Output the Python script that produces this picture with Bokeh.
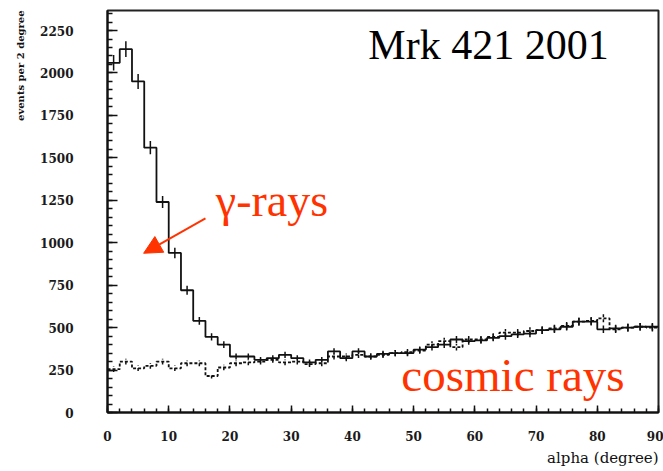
import numpy as np
from bokeh.plotting import figure
from bokeh.models import Range1d, Label, Arrow, NormalHead, FixedTicker, Title
from bokeh.embed import file_html
from bokeh.resources import INLINE

# alpha histogram, 2-degree bins from 0 to 90
bin_low = np.arange(0, 90, 2)
bin_width = 2

# ON-source events (gamma-rays + background)
on_counts = [2060, 2140, 1950, 1560, 1240, 940, 720, 540, 445, 400,
             330, 330, 310, 320, 340, 320, 295, 310, 360, 320,
             360, 330, 345, 350, 350, 370, 385, 400, 430, 420,
             425, 440, 450, 460, 465, 485, 490, 505, 535, 535,
             490, 495, 500, 505, 505]

# OFF-source events (cosmic rays)
off_counts = [255, 300, 260, 275, 300, 260, 290, 290, 215, 265,
              290, 295, 300, 310, 295, 300, 285, 290, 330, 330,
              340, 330, 340, 350, 355, 365, 400, 420, 385, 430,
              430, 445, 470, 470, 480, 485, 495, 510, 535, 540,
              555, 490, 500, 505, 500]

y_ticks = [0, 250, 500, 750, 1000, 1250, 1500, 1750, 2000, 2250]
x_ticks = [0, 10, 20, 30, 40, 50, 60, 70, 80, 90]

RED = "#ff3300"
TICK_FONT = "DejaVu Serif"
TEXT_FONT = "Liberation Serif"

p = figure(width=663, height=471, output_backend="svg", toolbar_location=None,
           x_range=Range1d(0, 90), y_range=Range1d(0, 2368),
           min_border_left=107, min_border_right=5,
           min_border_top=10, min_border_bottom=59)
p.background_fill_color = "white"
p.border_fill_color = "white"
p.outline_line_color = "#222222"
p.outline_line_width = 2
p.xgrid.visible = False
p.ygrid.visible = False

for ax in (p.xaxis[0], p.yaxis[0]):
    ax.axis_line_color = "#111111"
    ax.axis_line_width = 2
    ax.major_tick_line_color = "#111111"
    ax.minor_tick_line_color = "#111111"
    ax.major_tick_line_width = 1.5
    ax.minor_tick_line_width = 1.5
    ax.major_tick_out = 0
    ax.minor_tick_out = 0
    ax.major_label_text_font = TICK_FONT
    ax.major_label_text_font_size = "12px"
    ax.major_label_text_font_style = "bold"
    ax.major_label_text_color = "#1a1a1a"

p.yaxis[0].ticker = FixedTicker(ticks=y_ticks,
                                minor_ticks=list(np.arange(0, 2400, 50)))
p.yaxis[0].major_tick_in = 10
p.yaxis[0].minor_tick_in = 5
p.yaxis[0].major_label_standoff = 34

p.xaxis[0].ticker = FixedTicker(ticks=x_ticks,
                                minor_ticks=list(np.arange(0, 92, 2)))
p.xaxis[0].major_tick_in = 7
p.xaxis[0].minor_tick_in = 4
p.xaxis[0].major_label_standoff = 18


def draw_hist(counts, dash):
    counts = np.asarray(counts, dtype=float)
    edges = np.append(bin_low, bin_low[-1] + bin_width)
    levels = np.append(counts, counts[-1])
    p.step(x=edges, y=levels, mode="after", line_color="#111111",
           line_width=1.8, line_dash=dash)
    centers = bin_low + bin_width / 2
    err = np.sqrt(counts)
    p.segment(x0=centers, y0=counts - err, x1=centers, y1=counts + err,
              line_color="#111111", line_width=1.5, line_dash=dash)


draw_hist(off_counts, "3 2")
draw_hist(on_counts, "solid")

# annotations
p.add_layout(Label(x=42.6, y=2162, text="Mrk 421 2001",
                   text_font=TEXT_FONT, text_font_size="42px",
                   text_color="black", text_baseline="alphabetic"))
p.add_layout(Label(x=17.7, y=1250, text="γ-rays",
                   text_font=TEXT_FONT, text_font_size="46px",
                   text_color=RED, text_baseline="alphabetic"))
p.add_layout(Label(x=48.0, y=220, text="cosmic rays",
                   text_font=TEXT_FONT, text_font_size="47px",
                   text_color=RED, text_baseline="alphabetic"))
p.add_layout(Arrow(x_start=16.0, y_start=1144, x_end=5.9, y_end=938,
                   line_color=RED, line_width=2,
                   end=NormalHead(size=18, fill_color=RED, line_color=RED)))

# axis titles; a blank title pads the y title away from the tick labels
p.add_layout(Title(text=" ", text_font_size="9px", standoff=0), "left")
p.add_layout(Title(text="events per 2 degree", align="right",
                   text_font=TICK_FONT, text_font_size="10px",
                   text_font_style="bold", text_color="#111111",
                   standoff=0, offset=0), "left")
p.add_layout(Title(text="alpha (degree)", align="right",
                   text_font=TICK_FONT, text_font_size="15px",
                   text_font_style="normal", text_color="#111111",
                   standoff=7, offset=0), "below")

open("out.html", "w").write(file_html(p, INLINE))
